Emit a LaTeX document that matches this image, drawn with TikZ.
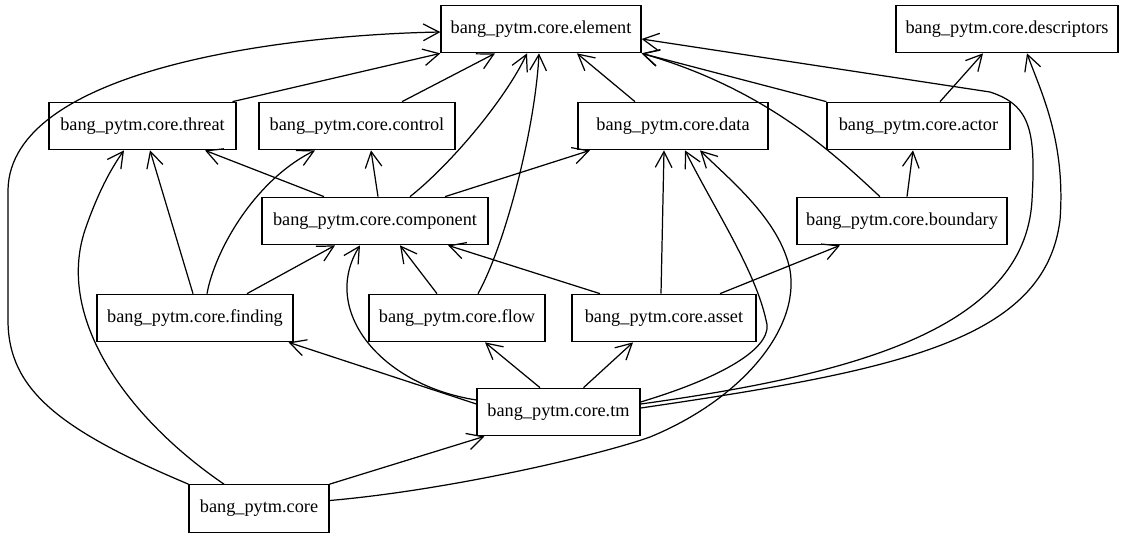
\documentclass[tikz,border=0pt]{standalone}
\usepackage{fontspec}
\setmainfont{Liberation Serif}
\usetikzlibrary{arrows.meta,calc}
\begin{document}
\begin{tikzpicture}[x=0.02cm,y=-0.02cm,
  box/.style={draw,line width=0.7pt,minimum height=0.95cm,inner sep=0pt,font=\fontsize{10.4}{12}\selectfont},
  edge/.style={line width=0.7pt,-{Straight Barb[length=9pt,width=9.5pt]}}]
\useasboundingbox (0,0) rectangle (1124,539);
\node[box,minimum width=4.0cm]  (element)     at (541,29)    {bang\_pytm.core.element};
\node[box,minimum width=4.44cm] (descriptors) at (1007,29)   {bang\_pytm.core.descriptors};
\node[box,minimum width=3.74cm] (threat)      at (142.5,126) {bang\_pytm.core.threat};
\node[box,minimum width=3.92cm] (control)     at (357,126)   {bang\_pytm.core.control};
\node[box,minimum width=3.8cm]  (data)        at (673,126)   {bang\_pytm.core.data};
\node[box,minimum width=3.66cm] (actor)       at (918.5,126) {bang\_pytm.core.actor};
\node[box,minimum width=4.52cm] (component)   at (375,221)   {bang\_pytm.core.component};
\node[box,minimum width=4.2cm]  (boundary)    at (902,221)   {bang\_pytm.core.boundary};
\node[box,minimum width=3.92cm] (finding)     at (195,318)   {bang\_pytm.core.finding};
\node[box,minimum width=3.52cm] (flow)        at (457,318)   {bang\_pytm.core.flow};
\node[box,minimum width=3.68cm] (asset)       at (664,318)   {bang\_pytm.core.asset};
\node[box,minimum width=3.26cm] (tm)          at (558.5,412) {bang\_pytm.core.tm};
\node[box,minimum width=2.8cm]  (core)        at (259,508.5) {bang\_pytm.core};

% to element
\draw[edge] ($(threat.north)+(90,0)$) -- (element.south west);
\draw[edge] ($(control.north)+(45,0)$) -- ($(element.south)+(-46,0)$);
\draw[edge] ($(component.north)+(35,0)$) .. controls (450,165) and (505,100) .. ($(element.south)+(-14,0)$);
\draw[edge] ($(flow.north)+(21,0)$) .. controls (505,245) and (535,130) .. ($(element.south)+(-2,0)$);
\draw[edge] ($(data.north)+(-38,0)$) -- ($(element.south)+(36,0)$);
\draw[edge] (actor.north west) -- (element.south east);
\draw[edge] ($(boundary.north)+(-22,0)$) .. controls (840,160) and (770,90) .. (element.south east);
\draw[edge] ($(tm.east)+(0,-8)$) .. controls (850,375) and (1025,330) .. (1032,200)
   .. controls (1036,130) and (1030,105) .. (990,92) -- ($(element.east)+(0,10)$);
\draw[edge] (core.north west) .. controls (60,430) and (8,390) .. (8,320) -- (8,190)
   .. controls (10,70) and (280,35) .. ($(element.west)+(0,3)$);

% to descriptors
\draw[edge] ($(tm.east)+(0,-4)$) .. controls (900,370) and (1045,340) .. (1060,220)
   .. controls (1066,140) and (1040,90) .. ($(descriptors.south)+(20,0)$);
\draw[edge] ($(actor.north)+(21.5,0)$) -- ($(descriptors.south)+(-24,0)$);

% from component
\draw[edge] ($(component.north)+(-51,0)$) -- ($(threat.south)+(62.5,0)$);
\draw[edge] ($(component.north)+(3,0)$) -- ($(control.south)+(14,0)$);
\draw[edge] ($(component.north)+(70,0)$) -- ($(data.south)+(-83,0)$);

% from finding
\draw[edge] ($(finding.north)+(-2,0)$) -- ($(threat.south)+(7.5,0)$);
\draw[edge] ($(finding.north)+(12,0)$) .. controls (215,250) and (255,180) .. ($(control.south)+(-42,0)$);
\draw[edge] ($(finding.north)+(52,0)$) -- ($(component.south)+(-40,0)$);

% flow, asset, boundary
\draw[edge] ($(flow.north)+(-20,0)$) -- ($(component.south)+(25,0)$);
\draw[edge] ($(asset.north)+(-64,0)$) -- ($(component.south)+(73,0)$);
\draw[edge] ($(asset.north)+(-3,0)$) -- ($(data.south)+(-9,0)$);
\draw[edge] ($(asset.north)+(56,0)$) -- ($(boundary.south)+(-62,0)$);
\draw[edge] ($(boundary.north)+(5,0)$) -- ($(actor.south)+(-5.5,0)$);

% from tm
\draw[edge] ($(tm.west)+(0,-8)$) -- ($(finding.south east)+(-5,0)$);
\draw[edge] ($(tm.north)+(-18.5,0)$) -- ($(flow.south)+(28,0)$);
\draw[edge] ($(tm.north)+(25,0)$) -- ($(asset.south)+(-31,0)$);
\draw[edge] ($(tm.west)+(0,-12)$) .. controls (380,385) and (320,310) .. ($(component.south)+(-15,0)$);
\draw[edge] ($(tm.east)+(0,-10)$) .. controls (730,375) and (775,345) .. (766,320)
   .. controls (755,270) and (715,210) .. ($(data.south)+(12,0)$);

% from core
\draw[edge] (core.north east) -- ($(tm.south west)+(8,0)$);
\draw[edge] ($(core.north)+(-35,0)$) .. controls (130,420) and (55,320) .. (85,230)
   .. controls (97,195) and (110,170) .. ($(threat.south)+(-18.5,0)$);
\draw[edge] ($(core.east)+(0,-8)$) .. controls (450,490) and (600,455) .. (650,437)
   .. controls (740,400) and (800,330) .. (790,270)
   .. controls (780,220) and (730,180) .. ($(data.south)+(27,0)$);
\end{tikzpicture}
\end{document}
